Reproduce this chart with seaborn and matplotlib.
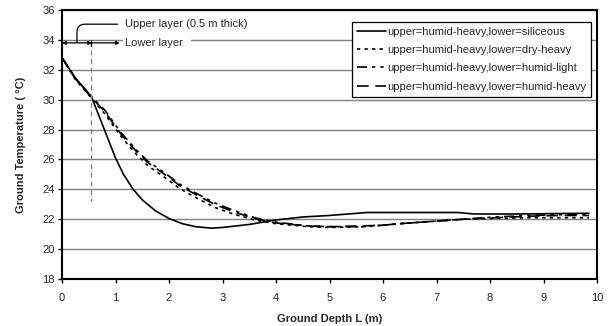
import matplotlib
matplotlib.use("Agg")
import matplotlib.pyplot as plt
import seaborn as sns
import pandas as pd

# ---- data ----
depth_sil = [0.0, 0.25, 0.55, 0.77, 1.0, 1.15, 1.33, 1.5, 1.75, 2.0, 2.25, 2.5, 2.8, 3.0, 3.5, 4.0, 4.5, 5.0, 5.7, 7.4, 7.7, 8.5, 9.85]
temp_sil = [32.8, 31.45, 30.2, 28.2, 26.1, 25.0, 24.0, 23.3, 22.55, 22.05, 21.7, 21.5, 21.4, 21.45, 21.65, 21.95, 22.15, 22.25, 22.45, 22.45, 22.35, 22.35, 22.4]

depth_d = [0.0, 0.25, 0.55, 0.8, 1.1, 1.4, 1.6, 1.9, 2.2, 2.5, 2.85, 3.2, 3.6, 4.0, 4.6, 5.0, 5.6, 6.0, 6.3, 6.9, 7.5, 8.1, 8.7, 9.3, 9.85]
temp_dry_heavy = [32.8, 31.35, 30.1, 29.05, 27.55, 26.3, 25.6, 24.85, 24.05, 23.45, 22.8, 22.35, 21.95, 21.7, 21.5, 21.45, 21.5, 21.6, 21.7, 21.85, 22.0, 22.05, 22.1, 22.1, 22.1]
temp_humid_light = [32.8, 31.45, 30.2, 29.3, 27.8, 26.6, 25.9, 25.15, 24.35, 23.75, 23.1, 22.6, 22.1, 21.8, 21.55, 21.5, 21.5, 21.6, 21.7, 21.85, 22.0, 22.15, 22.25, 22.3, 22.3]
temp_humid_heavy = [32.8, 31.4, 30.15, 29.2, 27.7, 26.5, 25.8, 25.05, 24.25, 23.65, 23.0, 22.5, 22.05, 21.75, 21.55, 21.5, 21.55, 21.6, 21.7, 21.85, 22.0, 22.1, 22.2, 22.25, 22.25]

series_names = ["upper=humid-heavy,lower=siliceous",
                "upper=humid-heavy,lower=dry-heavy",
                "upper=humid-heavy,lower=humid-light",
                "upper=humid-heavy,lower=humid-heavy"]

x_ticks = [0, 1, 2, 3, 4, 5, 6, 7, 8, 9, 10]
y_ticks = [18, 20, 22, 24, 26, 28, 30, 32, 34, 36]

frames = [
    pd.DataFrame({"depth": depth_sil, "temp": temp_sil, "series": series_names[0]}),
    pd.DataFrame({"depth": depth_d, "temp": temp_dry_heavy, "series": series_names[1]}),
    pd.DataFrame({"depth": depth_d, "temp": temp_humid_light, "series": series_names[2]}),
    pd.DataFrame({"depth": depth_d, "temp": temp_humid_heavy, "series": series_names[3]}),
]
df = pd.concat(frames, ignore_index=True)

sns.set_style("white")
plt.rcParams["font.family"] = ["Liberation Sans", "DejaVu Sans"]

FS = 8

fig = plt.figure(figsize=(6.10, 3.26), dpi=100)
ax = fig.add_axes([62/610, 1 - 279/326, (597-62)/610, (279-10)/326])

dashes = {series_names[0]: "",
          series_names[1]: (2, 2.5),
          series_names[2]: (6, 3, 2, 3, 2, 3),
          series_names[3]: (7, 4)}

sns.lineplot(data=df, x="depth", y="temp", style="series", dashes=dashes,
             color="black", linewidth=1.2, ax=ax, legend=False,
             style_order=series_names, sort=False)

ax.set_xlim(0, 10)
ax.set_ylim(18, 36)
ax.set_xticks(x_ticks)
ax.set_yticks(y_ticks)
ax.yaxis.grid(True, color="#808080", linewidth=1.0)
ax.xaxis.grid(False)
ax.set_axisbelow(True)
for s in ax.spines.values():
    s.set_visible(True)
    s.set_color("black")
    s.set_linewidth(1.5)
ax.tick_params(axis="both", direction="out", length=3, width=1, labelsize=FS,
               color="black", bottom=True, left=True, pad=2)
ax.tick_params(axis="x", pad=7)

ax.set_xlabel("Ground Depth L (m)", fontsize=FS, fontweight="bold", labelpad=8)
ax.set_ylabel("Ground Temperature ( °C)", fontsize=FS, fontweight="bold", labelpad=12)

# legend
handles = ax.get_lines()[:4]
leg = ax.legend(handles, series_names, loc="upper left",
                bbox_to_anchor=(0.542, 0.957), fontsize=FS, frameon=True,
                fancybox=False, edgecolor="black", framealpha=1,
                handlelength=2.6, handletextpad=0.1, borderpad=0.45,
                borderaxespad=0, labelspacing=0.75)
leg.get_frame().set_linewidth(0.9)

# layer annotations
ax.plot([0.55, 0.55], [33.9, 23.2], color="#808080", linewidth=0.9,
        dashes=(4, 3))
ax.annotate("", xy=(0.0, 33.8), xytext=(0.56, 33.8),
            arrowprops=dict(arrowstyle="<|-|>", color="black", lw=0.9,
                            mutation_scale=5, shrinkA=0, shrinkB=0))
ax.annotate("", xy=(1.08, 33.8), xytext=(0.55, 33.8),
            arrowprops=dict(arrowstyle="-|>", color="black", lw=0.9,
                            mutation_scale=5, shrinkA=0, shrinkB=0))
ax.plot([0.55, 0.55], [33.6, 34.0], color="black", linewidth=0.9)
ax.text(1.18, 33.8, "Lower layer  ", fontsize=FS, va="center", ha="left",
        bbox=dict(facecolor="white", edgecolor="none", pad=1.5), zorder=1.5)
ax.annotate("Upper layer (0.5 m thick)", xy=(0.28, 33.8), xytext=(1.18, 35.05),
            fontsize=FS, va="center", ha="left",
            arrowprops=dict(arrowstyle="-", color="black", lw=0.9,
                            connectionstyle="angle,angleA=0,angleB=90,rad=8",
                            shrinkA=3, shrinkB=0))

fig.savefig("out.png", dpi=100)
